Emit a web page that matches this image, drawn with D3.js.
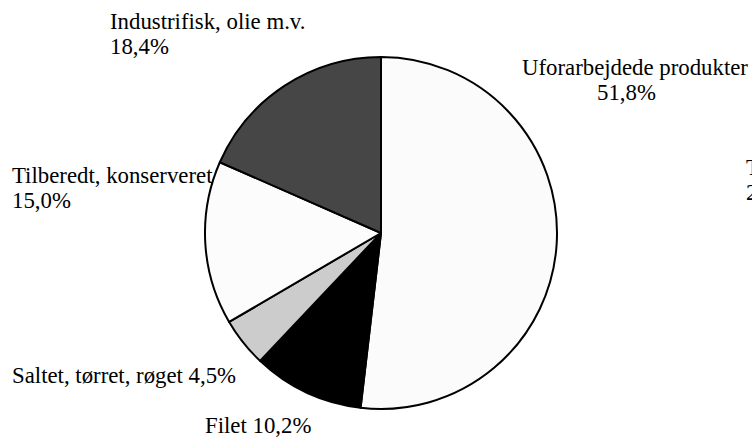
<!DOCTYPE html>
<html>
<head>
<meta charset="utf-8">
<script src="https://cdnjs.cloudflare.com/ajax/libs/d3/7.8.5/d3.min.js"></script>
<style>
  body { margin: 0; background: #fff; overflow: hidden; }
  text { font-family: "Liberation Serif", "Times New Roman", serif; font-size: 22.8px; fill: #000; }
</style>
</head>
<body>
<div class="pie-chart"></div>
<script>

var categories = ["Uforarbejdede produkter", "Filet", "Saltet, tørret, røget", "Tilberedt, konserveret", "Industrifisk, olie m.v."]
var values = [51.8, 10.2, 4.5, 15.0, 18.4]
var colors = ["#fbfbfb", "#000000", "#cccccc", "#fcfcfc", "#464646"]

// where each label sits: first line x/baseline, and x of the percent line if it wraps
var labelLayout = [
  {x: 522, y: 75, split: true, x2: 597},
  {x: 205, y: 433, split: false},
  {x: 12, y: 383, split: false},
  {x: 12, y: 183, split: true, x2: 12},
  {x: 110, y: 29, split: true, x2: 110}
]

var createPie = {
  init: function(){

    var width = 752,
      height = 437,
      cx = 381,
      cy = 233,
      radius = 176;

    var svg = d3.select(".pie-chart").append("svg")
      .attr("width", width)
      .attr("height", height)

    var pie = d3.pie()
      .sort(null)
      .value(function(d){ return d; })

    var arc = d3.arc()
      .innerRadius(0)
      .outerRadius(radius)

    var fmt = function(v){ return d3.format(".1f")(v).replace(".", ",") + "%"; }

    svg.append("g")
      .attr("transform", "translate(" + cx + "," + cy + ")")
      .selectAll("path")
      .data(pie(values))
      .enter()
      .append("path")
      .attr("d", arc)
      .attr("fill", function(d, i){ return colors[i]; })
      .attr("stroke", "#000")
      .attr("stroke-width", 2)
      .attr("stroke-linejoin", "round")

    var labels = svg.append("g").attr("class", "labels")

    categories.forEach(function(name, i){
      var l = labelLayout[i];
      if (l.split){
        labels.append("text").attr("x", l.x).attr("y", l.y).text(name)
        labels.append("text").attr("x", l.x2).attr("y", l.y + 25).text(fmt(values[i]))
      } else {
        labels.append("text").attr("x", l.x).attr("y", l.y).text(name + " " + fmt(values[i]))
      }
    })

    // the cut-off text at the right edge of the frame
    labels.append("text").attr("x", 746).attr("y", 175).text("Total")
    labels.append("text").attr("x", 746).attr("y", 200).text("2")

  }
}

createPie.init();

</script>
</body>
</html>
